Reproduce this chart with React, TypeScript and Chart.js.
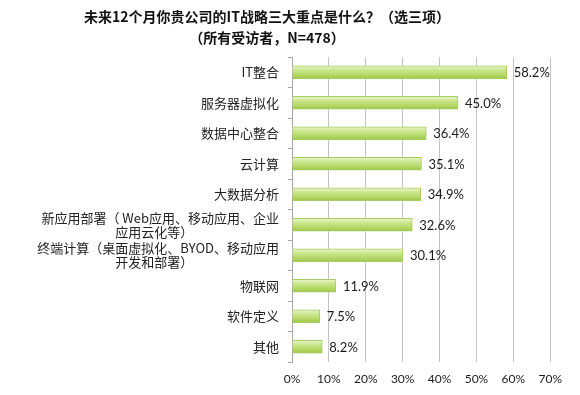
import React, { useEffect, useRef } from "react";
import { Chart, registerables } from "chart.js";

Chart.register(...registerables);

const titleLines = ["未来12个月你贵公司的IT战略三大重点是什么？（选三项）", "（所有受访者，N=478）"];
const PAD = "\u2800".repeat(9);
const categories: (string | string[])[] = [
  "IT整合",
  "服务器虚拟化",
  "数据中心整合",
  "云计算",
  "大数据分析",
  ["新应用部署（ Web应用、移动应用、企业", "应用云化等）" + PAD],
  ["终端计算（桌面虚拟化、BYOD、移动应用", "开发和部署）" + PAD],
  "物联网",
  "软件定义",
  "其他",
];
const values = [58.2, 45.0, 36.4, 35.1, 34.9, 32.6, 30.1, 11.9, 7.5, 8.2];
const xMax = 70;
const xStep = 10;

const CJK = '"Noto Sans CJK SC", "Noto Sans", "DejaVu Sans", sans-serif';
const LAT = 'Lato, "Noto Sans", sans-serif';

const titlePlugin = {
  id: "customTitle",
  afterDraw(chart: any) {
    const ctx = chart.ctx;
    ctx.save();
    ctx.fillStyle = "#111";
    ctx.font = `bold 14px ${CJK}`;
    ctx.textAlign = "center";
    ctx.textBaseline = "middle";
    ctx.fillText(titleLines[0], 259, 9);
    ctx.fillText(titleLines[1], 259, 30);
    ctx.restore();
  },
};

const valueLabelPlugin = {
  id: "valueLabels",
  afterDatasetsDraw(chart: any) {
    const ctx = chart.ctx;
    const meta = chart.getDatasetMeta(0);
    ctx.save();
    ctx.fillStyle = "#1a1a1a";
    ctx.font = `13px ${LAT}`;
    ctx.textAlign = "left";
    ctx.textBaseline = "middle";
    meta.data.forEach((bar: any, i: number) => {
      ctx.fillText(values[i].toFixed(1) + "%", bar.x + 7, bar.y + 1);
    });
    ctx.restore();
  },
};

export default function App() {
  const ref = useRef<HTMLCanvasElement | null>(null);
  useEffect(() => {
    if (!ref.current) return;
    const chart = new Chart(ref.current, {
      type: "bar",
      data: {
        labels: categories as any,
        datasets: [
          {
            data: values,
            backgroundColor: (c: any) => {
              const ch = c.chart;
              const ys = ch.scales && ch.scales.y;
              if (!ys || c.type !== "data") return "#b5d96a";
              const yc = ys.getPixelForValue(c.dataIndex);
              if (!isFinite(yc)) return "#b5d96a";
              const g = ch.ctx.createLinearGradient(0, yc - 7, 0, yc + 7);
              g.addColorStop(0, "#eef8d6");
              g.addColorStop(0.35, "#cbe78e");
              g.addColorStop(0.75, "#b0d660");
              g.addColorStop(1, "#96c143");
              return g;
            },
            borderColor: "#a6cc62",
            borderWidth: 1,
            barThickness: 13,
          },
        ],
      },
      options: {
        indexAxis: "y",
        animation: false,
        responsive: true,
        maintainAspectRatio: false,
        layout: { padding: { top: 49, right: 19, left: 0, bottom: 0 } },
        plugins: {
          legend: { display: false },
          title: { display: false },
          tooltip: { enabled: false },
        },
        scales: {
          x: {
            min: 0,
            max: xMax,
            ticks: {
              stepSize: xStep,
              callback: (v: any) => v + "%",
              color: "#1a1a1a",
              font: { size: 12, family: LAT },
              padding: 10,
            },
            grid: { color: "#c4c4c4", drawTicks: false, lineWidth: 1 },
            border: { display: false },
            afterFit: (s: any) => {
              s.height = 25;
            },
          },
          y: {
            ticks: {
              color: "#222",
              font: { size: 13, family: CJK, lineHeight: 1.1 },
              padding: 9,
              autoSkip: false,
            },
            grid: {
              offset: true,
              drawOnChartArea: false,
              drawTicks: true,
              tickLength: 4,
              color: "#a6a6a6",
            },
            border: { display: true, color: "#a6a6a6" },
            afterFit: (s: any) => {
              s.width = 284;
            },
          },
        },
      } as any,
      plugins: [titlePlugin, valueLabelPlugin],
    });
    return () => chart.destroy();
  }, []);
  return (
    <div style={{ position: "relative", width: 564, height: 379, background: "#fff" }}>
      <canvas ref={ref} />
    </div>
  );
}
